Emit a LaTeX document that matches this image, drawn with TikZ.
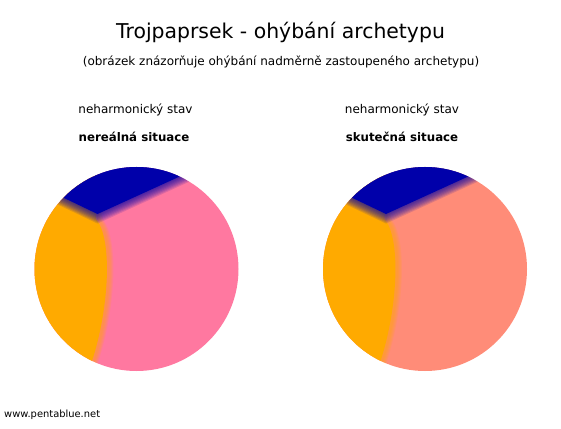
\documentclass[tikz,border=0pt]{standalone}
\usepackage{fontspec}
\setmainfont{DejaVu Sans}
\usetikzlibrary{positioning}
\definecolor{deepblue}{HTML}{0000AA}
\definecolor{amber}{HTML}{FFAA00}
\definecolor{rose}{HTML}{FF78A0}
\definecolor{salmon}{HTML}{FF8C78}
\tikzset{
  heading/.style={
    font=\fontsize{20.4}{24}\selectfont,
    inner sep=0pt
  },
  subheading/.style={
    font=\fontsize{12}{14}\selectfont,
    inner sep=0pt
  },
  caption/.style={
    font=\fontsize{12}{14}\selectfont,
    inner sep=0pt
  },
  strongcaption/.style={
    caption,
    font=\fontsize{11.8}{14}\selectfont\bfseries
  },
  haze/.style={
    opacity=0.13
  }
}
% one bent three-ray pie, centred at #1, with main sector colour #2
\newcommand{\archpie}[2]{
  \begin{scope}[shift={#1}]
    \clip (0,0) circle (102);
    \fill[#2] (-110,-110) rectangle (110,110);
    % orange sector, soft towards the right
    \foreach \k in {1,...,5} {
      \fill[amber, haze, xshift=\k] (-39,50) .. controls (-22,30) and (-26,-40) .. (-43,-92)
        -- (-45,-110) -- (-110,-110) -- (-110,110) -- (-39,110) -- cycle;
    }
    \fill[amber, xshift=-1.5] (-39,50) .. controls (-22,30) and (-26,-40) .. (-43,-92)
      -- (-45,-110) -- (-110,-110) -- (-110,110) -- (-39,110) -- cycle;
    % blue sector, soft towards the bottom
    \foreach \k in {1,...,8} {
      \fill[deepblue, haze, yshift=-1.2*\k] (-39,55) -- (-110,89) -- (-110,130)
        -- (110,130) -- (110,123) -- cycle;
    }
    \fill[deepblue] (-39,55) -- (-110,89) -- (-110,130)
      -- (110,130) -- (110,123) -- cycle;
  \end{scope}
}

\begin{document}
\begin{tikzpicture}[x=1pt, y=1pt]
  \fill[white] (0,0) rectangle (561,428);
  \useasboundingbox (0,0) rectangle (561,428);

  \node[heading] (title) at (280.5,396) {Trojpaprsek - ohýbání archetypu};
  \node[subheading] (subtitle) at (281,366)
    {(obrázek znázorňuje ohýbání nadměrně zastoupeného archetypu)};

  \node[caption] (leftstate) at (135.5,318) {neharmonický stav};
  \node[strongcaption] (leftcase) at (134,291) {nereálná situace};
  \node[caption] (rightstate) at (402,318) {neharmonický stav};
  \node[strongcaption] (rightcase) at (402,291) {skutečná situace};

  \archpie{(136.5,159)}{rose}
  \archpie{(425,159)}{salmon}

  \node[caption, font=\fontsize{9.9}{12}\selectfont, anchor=west] (site)
    at (4,13) {www.pentablue.net};
\end{tikzpicture}
\end{document}
